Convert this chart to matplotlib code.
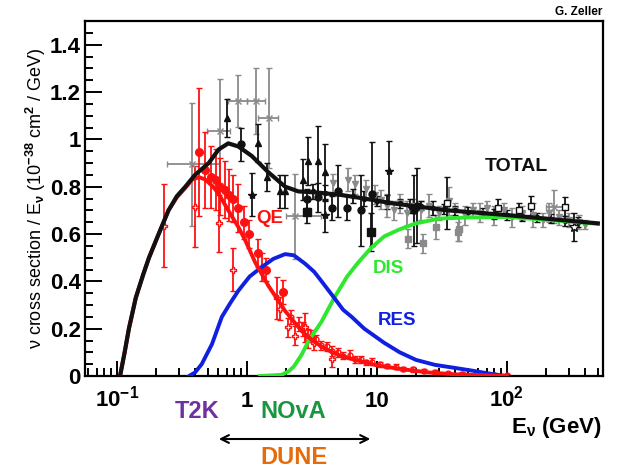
import numpy as np
import matplotlib.pyplot as plt
from matplotlib.ticker import LogLocator, MultipleLocator, NullFormatter

plt.rcParams['font.family'] = ['Liberation Sans', 'DejaVu Sans']
plt.rcParams['font.weight'] = 'bold'
plt.rcParams['mathtext.fontset'] = 'custom'
plt.rcParams['mathtext.rm'] = 'Liberation Sans:bold'
plt.rcParams['mathtext.bf'] = 'Liberation Sans:bold'
plt.rcParams['mathtext.it'] = 'Liberation Sans:bold'
plt.rcParams['mathtext.default'] = 'bf'

# model curves (E in GeV, cross section / E in 1e-38 cm^2/GeV)
total_e = [0.106, 0.115, 0.124, 0.14, 0.16, 0.177, 0.21, 0.25, 0.29, 0.337, 0.40, 0.51,
           0.607, 0.72, 0.86, 1.09, 1.47, 1.97, 2.49, 3.5, 5.3, 8, 13, 35, 100, 250, 500]
total_y = [0.0, 0.10, 0.20, 0.33, 0.43, 0.50, 0.60, 0.70, 0.76, 0.80, 0.85, 0.90,
           0.957, 0.983, 0.97, 0.93, 0.86, 0.80, 0.78, 0.775, 0.765, 0.75, 0.73, 0.70, 0.68, 0.66, 0.645]

qe_e = [0.106, 0.115, 0.124, 0.14, 0.16, 0.177, 0.21, 0.25, 0.29, 0.337, 0.38, 0.43, 0.48,
        0.55, 0.607, 0.72, 0.86, 0.97, 1.16, 1.47, 1.97, 2.64, 3.2, 4.0, 5.0, 6.4, 10, 15,
        25, 40, 70, 100]
qe_y = [0.0, 0.10, 0.20, 0.33, 0.43, 0.50, 0.60, 0.70, 0.755, 0.795, 0.83, 0.84, 0.83,
        0.80, 0.77, 0.70, 0.63, 0.575, 0.48, 0.38, 0.275, 0.19, 0.15, 0.115, 0.09, 0.072,
        0.045, 0.03, 0.015, 0.007, 0.003, 0.0]

res_e = [0.36, 0.40, 0.45, 0.54, 0.643, 0.75, 0.86, 1.05, 1.30, 1.6, 1.97, 2.3, 2.8, 3.3,
         3.76, 4.7, 5.5, 6.4, 8, 11.4, 15, 20, 28, 40, 55, 70, 85, 100]
res_y = [0.0, 0.015, 0.05, 0.135, 0.25, 0.31, 0.36, 0.42, 0.46, 0.495, 0.515, 0.51, 0.475,
         0.44, 0.40, 0.33, 0.28, 0.25, 0.20, 0.14, 0.10, 0.068, 0.047, 0.034, 0.022, 0.012,
         0.005, 0.0]

dis_e = [1.26, 1.85, 2.1, 2.3, 2.64, 3.0, 3.76, 4.7, 5.9, 7.2, 9, 11.4, 15, 20, 30, 50,
         100, 200, 350, 500]
dis_y = [0.0, 0.005, 0.02, 0.04, 0.09, 0.15, 0.23, 0.33, 0.42, 0.48, 0.54, 0.59, 0.62,
         0.645, 0.665, 0.67, 0.672, 0.66, 0.65, 0.643]

# QE data
red_fc_e = [0.427, 0.474, 0.533, 0.579, 0.624, 0.682, 0.73, 0.79, 0.853, 0.96, 1.04, 1.21, 1.41, 1.89]
red_fc_y = [0.946, 0.87, 0.84, 0.83, 0.80, 0.787, 0.763, 0.75, 0.71, 0.65, 0.60, 0.52, 0.45, 0.355]
red_fc_err = [0.27, 0.16, 0.13, 0.13, 0.12, 0.12, 0.11, 0.10, 0.10, 0.07, 0.06, 0.06, 0.05, 0.05]

red_os_e = [0.23, 0.397, 0.607, 0.79, 1.30, 1.72, 1.80, 2.09, 2.35, 2.8, 2.97, 3.3, 4.48]
red_os_y = [0.635, 0.716, 0.645, 0.45, 0.46, 0.33, 0.285, 0.205, 0.17, 0.205, 0.157, 0.14, 0.07]
red_os_err = [0.175, 0.17, 0.12, 0.09, 0.06, 0.09, 0.05, 0.04, 0.04, 0.06, 0.04, 0.03, 0.03]

red_tail_e = [2.2, 2.5, 2.7, 3.1, 3.4, 3.7, 4.1, 4.5, 5.0, 5.5, 6.2, 6.8, 7.5, 8.3, 9.2,
              10.5, 12, 14, 16, 19, 23, 28, 35, 45, 60, 80, 100]
red_tail_y = [0.25, 0.22, 0.20, 0.17, 0.155, 0.13, 0.125, 0.105, 0.10, 0.085, 0.09, 0.07,
              0.07, 0.058, 0.06, 0.05, 0.042, 0.04, 0.03, 0.028, 0.02, 0.018, 0.012, 0.01,
              0.006, 0.005, 0.003]
red_tail_err = [0.03, 0.03, 0.03, 0.025, 0.02, 0.02, 0.02, 0.02, 0.02, 0.015, 0.02, 0.015,
                0.015, 0.01, 0.015, 0.01, 0.01, 0.01, 0.01, 0.01, 0.008, 0.008, 0.006, 0.006,
                0.005, 0.005, 0.005]

# total cross section data
blk_tri_e = [0.70, 1.21, 1.42, 1.80, 1.95, 2.72, 2.97, 3.5, 3.97]
blk_tri_y = [1.09, 0.986, 0.84, 0.78, 0.78, 0.83, 0.908, 0.908, 0.86]
blk_tri_err = [0.08, 0.08, 0.06, 0.07, 0.07, 0.085, 0.10, 0.15, 0.12]

blk_circ_e = [0.905, 2.88, 3.5, 4.48, 5.0, 5.85, 7.6, 9.1, 19.2, 20.2]
blk_circ_y = [0.98, 0.75, 0.755, 0.71, 0.78, 0.71, 0.70, 0.77, 0.70, 0.72]
blk_circ_err = [0.07, 0.04, 0.06, 0.05, 0.11, 0.05, 0.15, 0.22, 0.15, 0.16]

blk_sq_e = [2.88, 8.95]
blk_sq_y = [0.695, 0.61]
blk_sq_err = [0.05, 0.08]

blk_star_e = [1.09, 3.97, 12.5]
blk_star_y = [0.766, 0.68, 0.866]
blk_star_err = [0.09, 0.07, 0.125]

blk_small_e = [3.2, 4.0, 6.5, 8, 10, 12, 15, 18, 22, 27, 33, 40, 50, 65, 80, 100, 130,
               170, 220, 280, 350]
blk_small_y = [0.78, 0.775, 0.76, 0.75, 0.74, 0.735, 0.73, 0.72, 0.72, 0.71, 0.705, 0.70,
               0.695, 0.69, 0.685, 0.68, 0.675, 0.67, 0.665, 0.655, 0.65]
blk_small_err = [0.03, 0.03, 0.03, 0.03, 0.02, 0.03, 0.02, 0.03, 0.02, 0.03, 0.02, 0.02,
                 0.02, 0.02, 0.02, 0.02, 0.02, 0.02, 0.02, 0.02, 0.02]

blk_open_e = [34.5, 85, 124, 152, 280]
blk_open_y = [0.73, 0.71, 0.70, 0.72, 0.716]
blk_open_err = [0.11, 0.04, 0.03, 0.04, 0.04]

blk_ostar_e = [327]
blk_ostar_y = [0.63]
blk_ostar_err = [0.06]

gry_cross_e = [0.38, 0.625, 0.85, 1.17, 1.47, 2.35, 230]
gry_cross_lo = [0.244, 0.494, 0.72, 1.0, 1.23, 2.0, 200]
gry_cross_hi = [0.607, 0.745, 1.0, 1.38, 1.75, 3.7, 275]
gry_cross_y = [0.894, 1.035, 1.163, 1.163, 1.09, 0.674, 0.716]
gry_cross_err = [0.26, 0.22, 0.11, 0.14, 0.21, 0.18, 0.07]

gry_tri_e = [4.6, 6.0, 6.75, 8.3, 9.6, 10.8, 12, 13.5, 15, 17, 19, 22, 25, 30, 36, 40, 48,
             55, 62, 70, 80, 95, 110, 130, 160, 190, 210, 250, 300, 360, 400]
gry_tri_y = [0.815, 0.83, 0.81, 0.79, 0.766, 0.745, 0.72, 0.70, 0.73, 0.69, 0.72, 0.70,
             0.72, 0.69, 0.74, 0.70, 0.68, 0.70, 0.69, 0.71, 0.68, 0.70, 0.67, 0.69, 0.68,
             0.66, 0.69, 0.67, 0.66, 0.65, 0.64]
gry_tri_err = [0.04, 0.05, 0.04, 0.04, 0.04, 0.04, 0.05, 0.04, 0.04, 0.05, 0.03, 0.04,
               0.05, 0.03, 0.06, 0.03, 0.04, 0.03, 0.04, 0.03, 0.04, 0.03, 0.04, 0.03, 0.05,
               0.03, 0.04, 0.03, 0.03, 0.03, 0.02]

gry_sq_e = [17.4, 22.6, 28.6, 41.8, 43]
gry_sq_y = [0.58, 0.56, 0.63, 0.61, 0.62]
gry_sq_err = [0.04, 0.04, 0.05, 0.04, 0.05]

xticks = [0.1, 1, 10, 100]
xtick_labels = ['10$^{-1}$', '1', '10', '10$^{2}$']
yticks = [0, 0.2, 0.4, 0.6, 0.8, 1.0, 1.2, 1.4]
ytick_labels = ['0', '0.2', '0.4', '0.6', '0.8', '1', '1.2', '1.4']

RED = '#ff1010'
BLUE = '#1020e0'
GREEN = '#2ee82e'
GRAY = '#8a8a8a'
BLACK = '#111111'


def points(ax, e, y, err, color, marker, ms, mfc=None, xerr=None):
    ax.errorbar(e, y, yerr=err, xerr=xerr, fmt=marker, color=color, ms=ms,
                mfc=color if mfc is None else mfc, mec=color, mew=1.0,
                elinewidth=1.3, capsize=2, capthick=1.3, zorder=2)


fig = plt.figure(figsize=(6.23, 4.68), dpi=100)
ax = fig.add_axes([85 / 623, 92 / 468, 518 / 623, 355 / 468])

# gray data
points(ax, gry_tri_e, gry_tri_y, gry_tri_err, GRAY, 'v', 4)
points(ax, gry_sq_e, gry_sq_y, gry_sq_err, GRAY, 's', 5)
xerr = [np.array(gry_cross_e) - np.array(gry_cross_lo), np.array(gry_cross_hi) - np.array(gry_cross_e)]
points(ax, gry_cross_e, gry_cross_y, gry_cross_err, GRAY, 'x', 5, xerr=xerr)

# black data
points(ax, blk_small_e, blk_small_y, blk_small_err, BLACK, 'o', 3)
points(ax, blk_tri_e, blk_tri_y, blk_tri_err, BLACK, '^', 5)
points(ax, blk_circ_e, blk_circ_y, blk_circ_err, BLACK, 'o', 5)
points(ax, blk_sq_e, blk_sq_y, blk_sq_err, BLACK, 's', 6)
points(ax, blk_star_e, blk_star_y, blk_star_err, BLACK, '*', 6)
points(ax, blk_open_e, blk_open_y, blk_open_err, BLACK, 's', 5, mfc='white')
points(ax, blk_ostar_e, blk_ostar_y, blk_ostar_err, BLACK, '*', 7, mfc='white')

# red QE data
points(ax, red_tail_e, red_tail_y, red_tail_err, RED, 'o', 3.5, mfc='none')
points(ax, red_os_e, red_os_y, red_os_err, RED, 'P', 5, mfc='white')
points(ax, red_fc_e, red_fc_y, red_fc_err, RED, 'o', 5.5)

# model curves
ax.plot(dis_e, dis_y, color=GREEN, lw=2.8, zorder=4)
ax.plot(res_e, res_y, color=BLUE, lw=2.8, zorder=4)
ax.plot(qe_e, qe_y, color=RED, lw=2.8, zorder=5)
ax.plot(total_e, total_y, color=BLACK, lw=3.0, zorder=5)

ax.set_xscale('log')
ax.set_xlim(0.057, 548)
ax.set_ylim(0, 1.5)
ax.set_xticks(xticks)
ax.set_xticklabels(xtick_labels)
ax.xaxis.set_minor_locator(LogLocator(base=10, subs=np.arange(2, 10) * 1.0, numticks=20))
ax.xaxis.set_minor_formatter(NullFormatter())
ax.set_yticks(yticks)
ax.set_yticklabels(ytick_labels)
ax.yaxis.set_minor_locator(MultipleLocator(0.05))

ax.tick_params(which='both', direction='in', top=False, right=False, width=1.4)
ax.tick_params(axis='y', which='major', length=12, pad=3, labelsize=16)
ax.tick_params(axis='y', which='minor', length=6)
ax.tick_params(axis='x', which='major', length=11, pad=22, labelsize=16)
ax.tick_params(axis='x', which='minor', length=6)
for lab in ax.get_xticklabels():
    lab.set_verticalalignment('baseline')
for s in ax.spines.values():
    s.set_linewidth(1.6)

ax.set_ylabel('ν cross section / E$_{ν}$ (10$^{-38}$ cm$^{2}$ / GeV)', fontsize=13)
ax.yaxis.set_label_coords(-0.071, 0.5)

ax.text(1.51, 0.664, 'QE', color=RED, fontsize=13.5, ha='center', va='center')
ax.text(119, 0.884, 'TOTAL', color=BLACK, fontsize=14, ha='center', va='center')
ax.text(12.2, 0.453, 'DIS', color=GREEN, fontsize=13.5, ha='center', va='center')
ax.text(14.3, 0.233, 'RES', color=BLUE, fontsize=13.5, ha='center', va='center')

fig.text(602 / 623, 1 - 428 / 468, 'E$_{ν}$ (GeV)', fontsize=16, ha='right', va='center')
fig.text(602 / 623, 1 - 12 / 468, 'G. Zeller', fontsize=8.5, ha='right', va='center')
fig.text(197 / 623, 1 - 412 / 468, 'T2K', color='#7030a0', fontsize=17, ha='center', va='center')
fig.text(293 / 623, 1 - 412 / 468, 'NOvA', color='#1a9641', fontsize=17, ha='center', va='center')
fig.text(294 / 623, 1 - 457 / 468, 'DUNE', color='#e46c0a', fontsize=17, ha='center', va='center')
ax.annotate('', xy=(0.58, 1 - 439 / 468), xytext=(9.35, 1 - 439 / 468),
            xycoords=('data', 'figure fraction'), textcoords=('data', 'figure fraction'),
            arrowprops=dict(arrowstyle='<->', color='black', lw=1.5, mutation_scale=14))

fig.savefig('out.png', dpi=100)
